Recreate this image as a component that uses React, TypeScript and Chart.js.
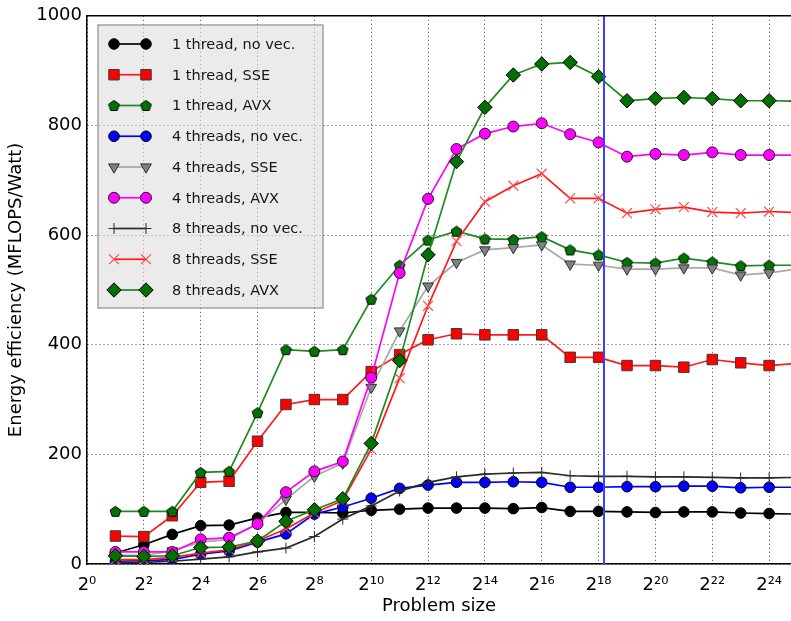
import React, { useEffect, useRef } from "react";
import { Chart, registerables } from "chart.js";
import { drawPoint } from "chart.js/helpers";

Chart.register(...registerables);

// ---- data ----
const problemSizeExponents = [1, 2, 3, 4, 5, 6, 7, 8, 9, 10, 11, 12, 13, 14, 15, 16, 17, 18, 19, 20, 21, 22, 23, 24, 25];

const oneThreadNoVec = [20, 35, 54, 70, 71, 84, 94, 94, 93, 98, 100, 102, 102, 102, 101, 103, 96, 96, 95, 94, 95, 95, 93, 92, 91];
const oneThreadSSE = [51, 50, 88, 149, 151, 224, 291, 300, 300, 351, 382, 409, 420, 418, 418, 418, 377, 377, 362, 362, 359, 373, 367, 362, 366];
const oneThreadAVX = [96, 96, 96, 167, 169, 276, 391, 388, 391, 483, 545, 591, 607, 593, 592, 597, 573, 564, 550, 549, 558, 551, 544, 545, 545];
const fourThreadsNoVec = [5, 6, 8, 18, 24, 40, 55, 91, 104, 120, 138, 144, 149, 149, 150, 149, 140, 140, 141, 141, 142, 142, 139, 140, 140];
const fourThreadsSSE = [16, 16, 24, 40, 45, 74, 118, 160, 184, 322, 425, 507, 550, 573, 577, 582, 547, 545, 538, 538, 540, 540, 527, 531, 538];
const fourThreadsAVX = [22, 22, 22, 45, 48, 73, 131, 169, 187, 340, 531, 666, 757, 785, 798, 804, 784, 769, 743, 748, 746, 751, 746, 746, 746];
const eightThreadsNoVec = [2, 3, 5, 9, 13, 22, 29, 50, 82, 106, 133, 149, 159, 164, 166, 167, 161, 160, 160, 159, 159, 158, 157, 157, 158];
const eightThreadsSSE = [8, 8, 12, 20, 26, 42, 64, 93, 116, 209, 339, 471, 589, 661, 690, 712, 667, 667, 640, 647, 651, 642, 640, 643, 641];
const eightThreadsAVX = [15, 14, 15, 30, 31, 42, 78, 99, 119, 220, 371, 564, 734, 833, 892, 912, 915, 889, 845, 849, 851, 849, 845, 845, 844];

const seriesLabels = [
  "1 thread, no vec.",
  "1 thread, SSE",
  "1 thread, AVX",
  "4 threads, no vec.",
  "4 threads, SSE",
  "4 threads, AVX",
  "8 threads, no vec.",
  "8 threads, SSE",
  "8 threads, AVX",
];
const seriesValues = [
  oneThreadNoVec,
  oneThreadSSE,
  oneThreadAVX,
  fourThreadsNoVec,
  fourThreadsSSE,
  fourThreadsAVX,
  eightThreadsNoVec,
  eightThreadsSSE,
  eightThreadsAVX,
];

// vertical marker line position (log2 of problem size)
const markerExponent = 18.19;
const markerRange = [0, 1000];

// axis settings
const xMinExponent = 0;
const xMaxExponent = 24.77;
const xTickStep = 2;
const yMin = 0;
const yMax = 1000;
const yTickStep = 200;
const xTitle = "Problem size";
const yTitle = "Energy efficiency (MFLOPS/Watt)";

// ---- styles ----
const FONT = "'DejaVu Sans', 'Liberation Sans', sans-serif";
const SUP: Record<string, string> = {
  "0": "\u2070", "1": "\u00b9", "2": "\u00b2", "3": "\u00b3", "4": "\u2074",
  "5": "\u2075", "6": "\u2076", "7": "\u2077", "8": "\u2078", "9": "\u2079",
};
const supText = (n: number) => String(Math.round(n)).split("").map((c) => SUP[c] ?? c).join("");

function makePentagon(fill: string, r: number): HTMLCanvasElement {
  const c = document.createElement("canvas");
  const s = Math.ceil(r * 2 + 3);
  c.width = s;
  c.height = s;
  const ctx = c.getContext("2d")!;
  ctx.beginPath();
  for (let k = 0; k < 5; k++) {
    const a = -Math.PI / 2 + (k * 2 * Math.PI) / 5;
    const px = s / 2 + r * Math.cos(a);
    const py = s / 2 + 0.5 + r * Math.sin(a);
    if (k === 0) ctx.moveTo(px, py);
    else ctx.lineTo(px, py);
  }
  ctx.closePath();
  ctx.fillStyle = fill;
  ctx.fill();
  ctx.lineWidth = 1;
  ctx.strokeStyle = "#000";
  ctx.stroke();
  return c;
}

type SeriesStyle = {
  line: string;
  fill: string;
  edge: string;
  style: any;
  r: number;
  rot?: number;
  edgeWidth: number;
};

function buildStyles(): SeriesStyle[] {
  const pent = makePentagon("#007400", 5.6);
  return [
    { line: "#000000", fill: "#000000", edge: "#000000", style: "circle", r: 5.3, edgeWidth: 1 },
    { line: "#ff1a1a", fill: "#ff0000", edge: "#3a3a3a", style: "rect", r: 7.4, edgeWidth: 1 },
    { line: "#1f8a1f", fill: "#007400", edge: "#000000", style: pent, r: 5.6, edgeWidth: 1 },
    { line: "#0000ff", fill: "#0000ff", edge: "#000000", style: "circle", r: 5.3, edgeWidth: 1 },
    { line: "#a8a8a8", fill: "#808080", edge: "#303030", style: "triangle", r: 6.2, rot: 180, edgeWidth: 1 },
    { line: "#ff00ff", fill: "#ff00ff", edge: "#202020", style: "circle", r: 5.5, edgeWidth: 1 },
    { line: "#2a2a2a", fill: "#2a2a2a", edge: "#2a2a2a", style: "cross", r: 5.5, edgeWidth: 1 },
    { line: "#ff1a1a", fill: "#ff4a4a", edge: "#ff4a4a", style: "crossRot", r: 7, edgeWidth: 1.2 },
    { line: "#1f8a1f", fill: "#007000", edge: "#000000", style: "rectRot", r: 7.2, edgeWidth: 1 },
  ];
}

const legendPlugin = {
  id: "insideLegend",
  afterDraw(chart: any) {
    const ctx: CanvasRenderingContext2D = chart.ctx;
    const bx = 98, by = 25, bw = 225, bh = 283;
    ctx.save();
    ctx.fillStyle = "rgba(222,222,222,0.6)";
    ctx.fillRect(bx, by, bw, bh);
    ctx.strokeStyle = "rgba(140,140,140,0.8)";
    ctx.lineWidth = 1.5;
    ctx.strokeRect(bx, by, bw, bh);
    let row = 0;
    chart.data.datasets.forEach((ds: any) => {
      if (ds.skipLegend) return;
      const y = 44 + row * 30.75;
      row++;
      ctx.save();
      ctx.strokeStyle = ds.borderColor;
      ctx.lineWidth = ds.borderWidth;
      ctx.beginPath();
      ctx.moveTo(114, y);
      ctx.lineTo(146, y);
      ctx.stroke();
      for (const px of [114, 146]) {
        ctx.fillStyle = ds.pointBackgroundColor;
        ctx.strokeStyle = ds.pointBorderColor;
        ctx.lineWidth = ds.pointBorderWidth;
        drawPoint(
          ctx,
          {
            pointStyle: ds.pointStyle,
            rotation: ds.pointRotation || 0,
            radius: ds.pointRadius,
            borderWidth: ds.pointBorderWidth,
          } as any,
          px,
          y
        );
      }
      ctx.restore();
      ctx.fillStyle = "#151515";
      ctx.font = `14.5px ${FONT}`;
      ctx.textBaseline = "middle";
      ctx.textAlign = "left";
      ctx.fillText(ds.label, 172, y + 1);
    });
    ctx.restore();
  },
};

const frameTopPlugin = {
  id: "frameTop",
  afterDraw(chart: any) {
    const { ctx, chartArea } = chart;
    ctx.save();
    ctx.strokeStyle = "#000";
    ctx.lineWidth = 1.5;
    ctx.beginPath();
    ctx.moveTo(chartArea.left, chartArea.top);
    ctx.lineTo(chartArea.right, chartArea.top);
    ctx.stroke();
    ctx.restore();
  },
};

export default function App() {
  const canvasRef = useRef<HTMLCanvasElement | null>(null);

  useEffect(() => {
    const canvas = canvasRef.current;
    if (!canvas) return;
    const styles = buildStyles();

    const datasets: any[] = seriesValues.map((vals, i) => {
      const s = styles[i];
      return {
        label: seriesLabels[i],
        data: problemSizeExponents.map((e, j) => ({ x: e, y: vals[j] })),
        borderColor: s.line,
        backgroundColor: s.fill,
        borderWidth: 1.7,
        pointStyle: s.style,
        pointRadius: s.r,
        pointHoverRadius: s.r,
        pointRotation: s.rot || 0,
        pointBackgroundColor: s.fill,
        pointBorderColor: s.edge,
        pointBorderWidth: s.edgeWidth,
        tension: 0,
        fill: false,
        order: 20 - i,
      };
    });

    datasets.push({
      label: "",
      skipLegend: true,
      data: markerRange.map((v) => ({ x: markerExponent, y: v })),
      borderColor: "#3d3dff",
      borderWidth: 2,
      pointRadius: 0,
      fill: false,
      order: 0,
    });

    const chart = new Chart(canvas, {
      type: "line",
      data: { datasets },
      options: {
        animation: false,
        responsive: false,
        devicePixelRatio: 1,
        layout: { autoPadding: false, padding: { top: 14, left: 0, right: 0, bottom: 0 } },
        plugins: {
          legend: { display: false },
          tooltip: { enabled: false },
        },
        scales: {
          x: {
            type: "linear",
            min: xMinExponent,
            max: xMaxExponent,
            ticks: {
              stepSize: xTickStep,
              includeBounds: false,
              autoSkip: false,
              maxRotation: 0,
              padding: 11,
              color: "#000",
              font: { family: FONT, size: 18 },
              callback: (v: any) => "2" + supText(Number(v)),
            },
            grid: {
              color: "rgba(0,0,0,0.75)",
              lineWidth: 1,
              drawTicks: false,
            },
            border: { display: true, color: "#000", width: 1.5, dash: [1, 3] },
            title: {
              display: true,
              text: xTitle,
              color: "#000",
              font: { family: FONT, size: 18 },
              padding: { top: 4, bottom: 4 },
            },
            afterFit: (scale: any) => {
              scale.height = 57;
              scale.paddingRight = 0;
              scale.paddingLeft = 0;
            },
          },
          y: {
            type: "linear",
            min: yMin,
            max: yMax,
            ticks: {
              stepSize: yTickStep,
              padding: 5,
              color: "#000",
              font: { family: FONT, size: 18 },
              callback: (v: any) => String(v),
            },
            grid: {
              color: "rgba(0,0,0,0.75)",
              lineWidth: 1,
              drawTicks: false,
            },
            border: { display: true, color: "#000", width: 1.5, dash: [1, 3] },
            title: {
              display: true,
              text: yTitle,
              color: "#000",
              font: { family: FONT, size: 18 },
              padding: { top: 6, bottom: 4 },
            },
            afterFit: (scale: any) => {
              scale.width = 87;
            },
          },
        },
      } as any,
      plugins: [frameTopPlugin, legendPlugin],
    });

    return () => chart.destroy();
  }, []);

  return (
    <div style={{ position: "absolute", left: 0, top: 0, width: 791, height: 621, overflow: "hidden", background: "#fff" }}>
      <canvas ref={canvasRef} width={791} height={621} style={{ display: "block" }} />
    </div>
  );
}
